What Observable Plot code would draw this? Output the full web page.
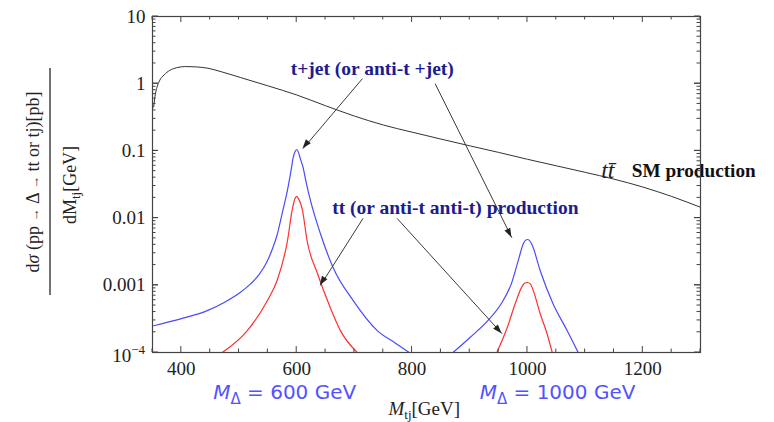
<!DOCTYPE html>
<html><head><meta charset="utf-8">
<script src="https://cdn.jsdelivr.net/npm/d3@7"></script>
<script src="https://cdn.jsdelivr.net/npm/@observablehq/plot@0.6"></script>
<style>body{margin:0;background:#fff}#chart{width:774px;height:422px}</style>
</head><body><div id="chart"></div>
<script>
// ---- data ----
const smMass  = [352,355,358,362,370,380,392,407,425,446,470,502,550,600,650,700,750,800,850,900,950,1000,1050,1100,1150,1200,1250,1300];
const smXsec  = [0.45,0.7,0.9,1.1,1.35,1.58,1.73,1.8,1.78,1.7,1.5,1.24,0.93,0.68,0.47,0.33,0.243,0.19,0.15,0.119,0.095,0.075,0.06,0.048,0.038,0.029,0.021,0.0145];

const tj600Mass = [352,400,445,475,502,520,535,548,558,566,575,584,590,594,597,600,603,606,611,617,624,641,663,698,740,770,795];
const tj600Xsec = [2.5e-4,3.2e-4,4.2e-4,5.6e-4,7.8e-4,1.05e-3,1.45e-3,2.2e-3,3.5e-3,5.6e-3,0.012,0.026,0.05,0.08,0.097,0.105,0.095,0.078,0.057,0.032,0.018,5.9e-3,1.84e-3,5.9e-4,2.1e-4,1.4e-4,1e-4];

const tt600Mass = [471,514,549,566,584,592,597,600,603,610,618,636,658,676,705];
const tt600Xsec = [1e-4,2.1e-4,5.9e-4,1.18e-3,4.6e-3,0.013,0.0195,0.021,0.0195,0.013,4.6e-3,1.5e-3,4.7e-4,2.1e-4,1e-4];

const tj1000Mass = [871,900,930,955,972,985,993,997,1000,1003,1008,1022,1044,1069,1088];
const tj1000Xsec = [1e-4,1.66e-4,2.9e-4,5.4e-4,1.05e-3,2.5e-3,4.2e-3,4.7e-3,4.8e-3,4.7e-3,4.0e-3,1.66e-3,5.4e-4,2.1e-4,1e-4];

const tt1000Mass = [947,965,979,989,995,1000,1005,1010,1022,1034,1043];
const tt1000Xsec = [1e-4,2.35e-4,5.4e-4,9e-4,1.07e-3,1.1e-3,1.05e-3,8.4e-4,3.8e-4,1.9e-4,1e-4];

const xMajorTicks = [400,600,800,1000,1200];
const xMinorTicks = [350,450,500,550,650,700,750,850,900,950,1050,1100,1150,1250,1300];
const yMajorTicks = [10,1,0.1,0.01,0.001,1e-4];

const annotLabels = ["t+jet (or anti-t +jet)", "tt (or anti-t anti-t) production"];
const annotMass   = [731, 875];
const annotXsec   = [1.68, 0.0144];

const arrowFromMass = [714, 840, 715, 774];
const arrowFromXsec = [1.19, 1.0, 0.0099, 0.0099];
const arrowToMass   = [611, 973, 641, 956];
const arrowToXsec   = [0.108, 0.0051, 0.00099, 0.00019];

const smLabelMass = [1126, 1181];
const smLabelXsec = 0.051;

const massLabels = ["600", "1000"];
const massLabelX = [580, 1053];

// ---- tables ----
const toRows = (ms, vs) => ms.map((m, i) => ({m, v: vs[i]}));
const sm = toRows(smMass, smXsec);
const tj600 = toRows(tj600Mass, tj600Xsec);
const tt600 = toRows(tt600Mass, tt600Xsec);
const tj1000 = toRows(tj1000Mass, tj1000Xsec);
const tt1000 = toRows(tt1000Mass, tt1000Xsec);
const annots = annotLabels.map((t, i) => ({t, m: annotMass[i], v: annotXsec[i]}));
const arrows = arrowFromMass.map((m, i) => ({x1: m, y1: arrowFromXsec[i], x2: arrowToMass[i], y2: arrowToXsec[i]}));

const BLUE = "#4a4aff", RED = "#ff3030", NAVY = "#1c1c8e";
const serif = "'Liberation Serif','Times New Roman',serif";

const plot = Plot.plot({
  width: 774, height: 422,
  marginTop: 16, marginBottom: 70, marginLeft: 152, marginRight: 74,
  style: {fontFamily: serif, fontSize: "19px", background: "#fff", color: "#222", overflow: "visible"},
  x: {domain: [350, 1300], axis: null},
  y: {type: "log", domain: [1e-4, 10], axis: null},
  marks: [
    Plot.axisX({ticks: xMajorTicks, tickSize: 0, tickPadding: 9, label: null, tickFormat: d => String(d), fontSize: 19}),
    Plot.axisY({ticks: yMajorTicks, tickSize: 0, tickPadding: 7, label: null, tickFormat: d => d === 1e-4 ? "" : String(d), fontSize: 19}),
    Plot.line(sm, {x: "m", y: "v", stroke: "#333", strokeWidth: 1, curve: "monotone-x", clip: true}),
    Plot.line(tj600, {x: "m", y: "v", stroke: BLUE, strokeWidth: 1.2, curve: "monotone-x", clip: true}),
    Plot.line(tt600, {x: "m", y: "v", stroke: RED, strokeWidth: 1.2, curve: "monotone-x", clip: true}),
    Plot.line(tj1000, {x: "m", y: "v", stroke: BLUE, strokeWidth: 1.2, curve: "monotone-x", clip: true}),
    Plot.line(tt1000, {x: "m", y: "v", stroke: RED, strokeWidth: 1.2, curve: "monotone-x", clip: true}),
    Plot.link(arrows, {x1: "x1", y1: "y1", x2: "x2", y2: "y2", stroke: "#3a3a3a", strokeWidth: 1}),
    Plot.text(annots, {x: "m", y: "v", text: "t", fill: NAVY, fontWeight: "bold", fontSize: 19.5, fontFamily: serif}),
    Plot.text(["tt\u0304"], {x: smLabelMass[0], y: smLabelXsec, text: d => d, textAnchor: "start", fontStyle: "italic", fontSize: 24, fill: "#222", fontFamily: serif, dx: 1}),
    Plot.text(["SM production"], {x: smLabelMass[1], y: smLabelXsec, text: d => d, textAnchor: "start", fontWeight: "bold", fontSize: 19.2, fill: "#111", fontFamily: serif}),
    Plot.frame({stroke: "#444", strokeWidth: 1.2})
  ]
});

document.getElementById("chart").appendChild(plot);

const svg = d3.select(plot);
const xs = plot.scale("x"), ys = plot.scale("y");

// filled arrowheads at the link ends
const ag = svg.append("g").attr("fill", "#222");
for (const a of arrows) {
  const px1 = xs.apply(a.x1), py1 = ys.apply(a.y1), px2 = xs.apply(a.x2), py2 = ys.apply(a.y2);
  const ang = Math.atan2(py2 - py1, px2 - px1), L = 9, W = 3.2;
  const bx = px2 - L * Math.cos(ang), by = py2 - L * Math.sin(ang);
  const nx = -Math.sin(ang) * W, ny = Math.cos(ang) * W;
  ag.append("path").attr("d", `M${px2},${py2}L${bx + nx},${by + ny}L${bx - nx},${by - ny}Z`);
}

// inward ticks on all four sides
const yBot = ys.apply(1e-4), yTop = ys.apply(10);
const xL = xs.apply(350), xR = xs.apply(1300);
const tg = svg.append("g").attr("stroke", "#444").attr("stroke-width", 1);
for (const v of [...xMajorTicks, ...xMinorTicks]) {
  const px = xs.apply(v), len = xMajorTicks.includes(v) ? 6 : 3.5;
  tg.append("line").attr("x1", px).attr("x2", px).attr("y1", yBot).attr("y2", yBot - len);
  tg.append("line").attr("x1", px).attr("x2", px).attr("y1", yTop).attr("y2", yTop + len);
}
for (let e = -4; e <= 0; e++) {
  for (let k = 1; k <= 10; k++) {
    const v = k * Math.pow(10, e), py = ys.apply(v), len = (k === 1 || k === 10) ? 6 : 3.5;
    tg.append("line").attr("y1", py).attr("y2", py).attr("x1", xL).attr("x2", xL + len);
    tg.append("line").attr("y1", py).attr("y2", py).attr("x1", xR).attr("x2", xR - len);
  }
}

// 10^-4 label
const t4 = svg.append("text").attr("font-family", serif).attr("font-size", 19).attr("fill", "#222")
  .attr("text-anchor", "end").attr("x", xL - 7).attr("y", yBot + 10);
t4.append("tspan").text("10");
t4.append("tspan").attr("font-size", 13).attr("dy", -8).text("\u22124");

// y-axis label (fraction)
const yl = svg.append("g").attr("font-family", serif).attr("font-size", 18).attr("fill", "#222");
const num = yl.append("text").attr("text-anchor", "middle").attr("transform", "translate(39,182) rotate(-90)");
num.append("tspan").text("d");
num.append("tspan").attr("font-style", "italic").text("\u03c3");
num.append("tspan").text(" (pp ");
num.append("tspan").attr("font-size", 13).text("\u2192");
num.append("tspan").text(" \u0394 ");
num.append("tspan").attr("font-size", 13).text("\u2192");
num.append("tspan").text(" tt or tj)[pb]");
yl.append("line").attr("x1", 50).attr("x2", 50).attr("y1", 68).attr("y2", 295).attr("stroke", "#444").attr("stroke-width", 1.5);
const den = yl.append("text").attr("text-anchor", "middle").attr("transform", "translate(76,185) rotate(-90)");
den.append("tspan").text("dM");
den.append("tspan").attr("font-size", 13).attr("dy", 4).text("tj");
den.append("tspan").attr("dy", -4).text("[GeV]");

// x-axis label
const xl = svg.append("text").attr("font-family", serif).attr("font-size", 19).attr("fill", "#222")
  .attr("text-anchor", "middle").attr("x", xs.apply(822)).attr("y", 415);
xl.append("tspan").attr("font-style", "italic").text("M");
xl.append("tspan").attr("font-size", 13).attr("dy", 4).text("tj");
xl.append("tspan").attr("dy", -4).text("[GeV]");

// M_Delta labels
massLabels.forEach((lab, i) => {
  const t = svg.append("text").attr("font-family", "'DejaVu Sans',sans-serif").attr("font-size", 20).attr("fill", "#5252ff")
    .attr("text-anchor", "middle").attr("x", xs.apply(massLabelX[i])).attr("y", 399);
  t.append("tspan").attr("font-style", "italic").text("M");
  t.append("tspan").attr("font-size", 15).attr("dy", 5).text("\u0394");
  t.append("tspan").attr("dy", -5).text(" = " + lab + " GeV");
});
</script></body></html>
